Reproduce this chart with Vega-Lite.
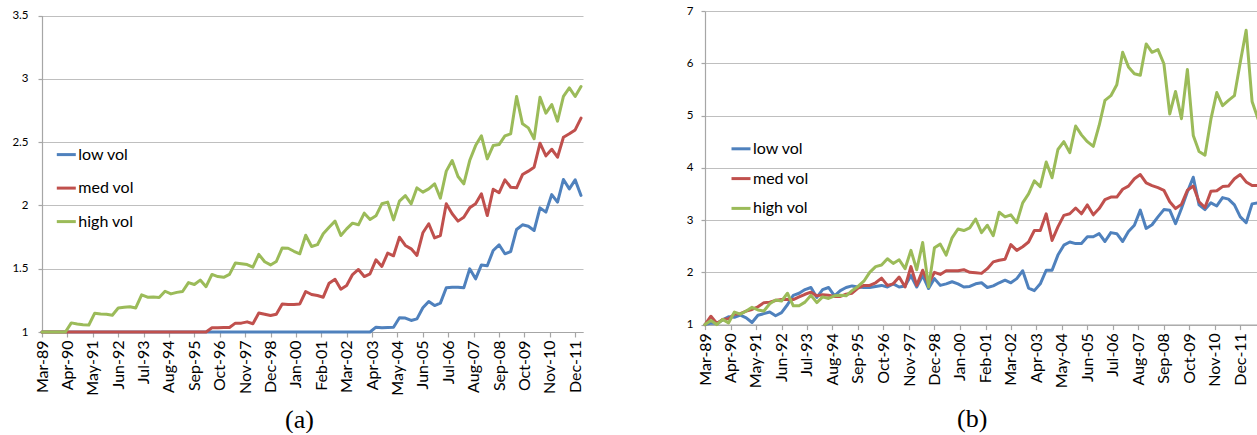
{
  "$schema": "https://vega.github.io/schema/vega-lite/v6.json",
  "background": "white",
  "padding": {"left": 11, "top": 5, "right": 0, "bottom": 0},
  "spacing": 102,
  "config": {
    "font": "Lato",
    "view": {"stroke": null},
    "axis": {
      "labelFont": "Lato",
      "labelColor": "#000000",
      "domainColor": "#a6a6a6",
      "domainWidth": 1.2,
      "tickColor": "#a6a6a6",
      "tickWidth": 1.2,
      "gridColor": "#bfbfbf",
      "gridWidth": 1.2
    },
    "legend": {
      "labelFont": "Lato",
      "labelColor": "#000000",
      "labelFontSize": 16,
      "symbolType": "stroke",
      "symbolSize": 361,
      "symbolStrokeWidth": 3,
      "labelOffset": 1,
      "padding": 0
    }
  },
  "datasets": {
    "cumA": [
      {"date": "1989-03", "low vol": 1, "med vol": 1, "high vol": 1},
      {"date": "1989-06", "low vol": 1, "med vol": 1, "high vol": 1},
      {"date": "1989-09", "low vol": 1, "med vol": 1, "high vol": 1},
      {"date": "1989-12", "low vol": 1, "med vol": 1, "high vol": 1},
      {"date": "1990-03", "low vol": 1, "med vol": 1, "high vol": 1},
      {"date": "1990-06", "low vol": 1, "med vol": 1, "high vol": 1.072},
      {"date": "1990-09", "low vol": 1, "med vol": 1, "high vol": 1.063},
      {"date": "1990-12", "low vol": 1, "med vol": 1, "high vol": 1.057},
      {"date": "1991-03", "low vol": 1, "med vol": 1, "high vol": 1.055},
      {"date": "1991-06", "low vol": 1, "med vol": 1, "high vol": 1.149},
      {"date": "1991-09", "low vol": 1, "med vol": 1, "high vol": 1.143},
      {"date": "1991-12", "low vol": 1, "med vol": 1, "high vol": 1.14},
      {"date": "1992-03", "low vol": 1, "med vol": 1, "high vol": 1.132},
      {"date": "1992-06", "low vol": 1, "med vol": 1, "high vol": 1.19},
      {"date": "1992-09", "low vol": 1, "med vol": 1, "high vol": 1.195},
      {"date": "1992-12", "low vol": 1, "med vol": 1, "high vol": 1.2},
      {"date": "1993-03", "low vol": 1, "med vol": 1, "high vol": 1.19},
      {"date": "1993-06", "low vol": 1, "med vol": 1, "high vol": 1.294},
      {"date": "1993-09", "low vol": 1, "med vol": 1, "high vol": 1.275},
      {"date": "1993-12", "low vol": 1, "med vol": 1, "high vol": 1.277},
      {"date": "1994-03", "low vol": 1, "med vol": 1, "high vol": 1.272},
      {"date": "1994-06", "low vol": 1, "med vol": 1, "high vol": 1.322},
      {"date": "1994-09", "low vol": 1, "med vol": 1, "high vol": 1.301},
      {"date": "1994-12", "low vol": 1, "med vol": 1, "high vol": 1.313},
      {"date": "1995-03", "low vol": 1, "med vol": 1, "high vol": 1.32},
      {"date": "1995-06", "low vol": 1, "med vol": 1, "high vol": 1.39},
      {"date": "1995-09", "low vol": 1, "med vol": 1, "high vol": 1.375},
      {"date": "1995-12", "low vol": 1, "med vol": 1, "high vol": 1.41},
      {"date": "1996-03", "low vol": 1, "med vol": 1, "high vol": 1.358},
      {"date": "1996-06", "low vol": 1, "med vol": 1.033, "high vol": 1.455},
      {"date": "1996-09", "low vol": 1, "med vol": 1.034, "high vol": 1.438},
      {"date": "1996-12", "low vol": 1, "med vol": 1.035, "high vol": 1.432},
      {"date": "1997-03", "low vol": 1, "med vol": 1.036, "high vol": 1.455},
      {"date": "1997-06", "low vol": 1, "med vol": 1.07, "high vol": 1.545},
      {"date": "1997-09", "low vol": 1, "med vol": 1.07, "high vol": 1.54},
      {"date": "1997-12", "low vol": 1, "med vol": 1.08, "high vol": 1.533},
      {"date": "1998-03", "low vol": 1, "med vol": 1.065, "high vol": 1.512},
      {"date": "1998-06", "low vol": 1, "med vol": 1.15, "high vol": 1.613},
      {"date": "1998-09", "low vol": 1, "med vol": 1.14, "high vol": 1.555},
      {"date": "1998-12", "low vol": 1, "med vol": 1.13, "high vol": 1.53},
      {"date": "1999-03", "low vol": 1, "med vol": 1.14, "high vol": 1.557},
      {"date": "1999-06", "low vol": 1, "med vol": 1.222, "high vol": 1.664},
      {"date": "1999-09", "low vol": 1, "med vol": 1.218, "high vol": 1.662},
      {"date": "1999-12", "low vol": 1, "med vol": 1.218, "high vol": 1.638},
      {"date": "2000-03", "low vol": 1, "med vol": 1.222, "high vol": 1.618},
      {"date": "2000-06", "low vol": 1, "med vol": 1.32, "high vol": 1.765},
      {"date": "2000-09", "low vol": 1, "med vol": 1.296, "high vol": 1.676},
      {"date": "2000-12", "low vol": 1, "med vol": 1.288, "high vol": 1.69},
      {"date": "2001-03", "low vol": 1, "med vol": 1.275, "high vol": 1.776},
      {"date": "2001-06", "low vol": 1, "med vol": 1.386, "high vol": 1.828},
      {"date": "2001-09", "low vol": 1, "med vol": 1.417, "high vol": 1.876},
      {"date": "2001-12", "low vol": 1, "med vol": 1.338, "high vol": 1.762},
      {"date": "2002-03", "low vol": 1, "med vol": 1.367, "high vol": 1.815},
      {"date": "2002-06", "low vol": 1, "med vol": 1.454, "high vol": 1.86},
      {"date": "2002-09", "low vol": 1, "med vol": 1.494, "high vol": 1.847},
      {"date": "2002-12", "low vol": 1, "med vol": 1.438, "high vol": 1.939},
      {"date": "2003-03", "low vol": 1, "med vol": 1.46, "high vol": 1.889},
      {"date": "2003-06", "low vol": 1.038, "med vol": 1.57, "high vol": 1.918},
      {"date": "2003-09", "low vol": 1.033, "med vol": 1.518, "high vol": 2.013},
      {"date": "2003-12", "low vol": 1.036, "med vol": 1.623, "high vol": 2.026},
      {"date": "2004-03", "low vol": 1.038, "med vol": 1.602, "high vol": 1.886},
      {"date": "2004-06", "low vol": 1.112, "med vol": 1.749, "high vol": 2.034},
      {"date": "2004-09", "low vol": 1.11, "med vol": 1.684, "high vol": 2.078},
      {"date": "2004-12", "low vol": 1.091, "med vol": 1.657, "high vol": 2.013},
      {"date": "2005-03", "low vol": 1.104, "med vol": 1.605, "high vol": 2.139},
      {"date": "2005-06", "low vol": 1.191, "med vol": 1.784, "high vol": 2.105},
      {"date": "2005-09", "low vol": 1.241, "med vol": 1.855, "high vol": 2.131},
      {"date": "2005-12", "low vol": 1.209, "med vol": 1.744, "high vol": 2.171},
      {"date": "2006-03", "low vol": 1.228, "med vol": 1.762, "high vol": 2.058},
      {"date": "2006-06", "low vol": 1.349, "med vol": 2.013, "high vol": 2.271},
      {"date": "2006-09", "low vol": 1.354, "med vol": 1.934, "high vol": 2.355},
      {"date": "2006-12", "low vol": 1.354, "med vol": 1.876, "high vol": 2.229},
      {"date": "2007-03", "low vol": 1.349, "med vol": 1.907, "high vol": 2.171},
      {"date": "2007-06", "low vol": 1.499, "med vol": 1.981, "high vol": 2.355},
      {"date": "2007-09", "low vol": 1.42, "med vol": 2.013, "high vol": 2.473},
      {"date": "2007-12", "low vol": 1.53, "med vol": 2.092, "high vol": 2.55},
      {"date": "2008-03", "low vol": 1.523, "med vol": 1.92, "high vol": 2.368},
      {"date": "2008-06", "low vol": 1.644, "med vol": 2.128, "high vol": 2.473},
      {"date": "2008-09", "low vol": 1.689, "med vol": 2.1, "high vol": 2.481},
      {"date": "2008-12", "low vol": 1.618, "med vol": 2.202, "high vol": 2.55},
      {"date": "2009-03", "low vol": 1.636, "med vol": 2.144, "high vol": 2.566},
      {"date": "2009-06", "low vol": 1.81, "med vol": 2.139, "high vol": 2.861},
      {"date": "2009-09", "low vol": 1.847, "med vol": 2.244, "high vol": 2.645},
      {"date": "2009-12", "low vol": 1.836, "med vol": 2.271, "high vol": 2.613},
      {"date": "2010-03", "low vol": 1.802, "med vol": 2.302, "high vol": 2.527},
      {"date": "2010-06", "low vol": 1.981, "med vol": 2.492, "high vol": 2.855},
      {"date": "2010-09", "low vol": 1.947, "med vol": 2.392, "high vol": 2.729},
      {"date": "2010-12", "low vol": 2.086, "med vol": 2.444, "high vol": 2.797},
      {"date": "2011-03", "low vol": 2.026, "med vol": 2.381, "high vol": 2.666},
      {"date": "2011-06", "low vol": 2.205, "med vol": 2.539, "high vol": 2.861},
      {"date": "2011-09", "low vol": 2.131, "med vol": 2.566, "high vol": 2.929},
      {"date": "2011-12", "low vol": 2.202, "med vol": 2.597, "high vol": 2.861},
      {"date": "2012-03", "low vol": 2.079, "med vol": 2.69, "high vol": 2.94}
    ],
    "cumB": [
      {"date": "1989-03", "low vol": 1, "med vol": 1, "high vol": 1},
      {"date": "1989-06", "low vol": 1.03, "med vol": 1.16, "high vol": 1.08},
      {"date": "1989-09", "low vol": 1.02, "med vol": 1.02, "high vol": 1.0},
      {"date": "1989-12", "low vol": 1.09, "med vol": 1.1, "high vol": 1.1},
      {"date": "1990-03", "low vol": 1.15, "med vol": 1.11, "high vol": 1.03},
      {"date": "1990-06", "low vol": 1.14, "med vol": 1.2, "high vol": 1.24},
      {"date": "1990-09", "low vol": 1.18, "med vol": 1.21, "high vol": 1.2},
      {"date": "1990-12", "low vol": 1.13, "med vol": 1.26, "high vol": 1.26},
      {"date": "1991-03", "low vol": 1.04, "med vol": 1.29, "high vol": 1.33},
      {"date": "1991-06", "low vol": 1.18, "med vol": 1.34, "high vol": 1.28},
      {"date": "1991-09", "low vol": 1.21, "med vol": 1.42, "high vol": 1.26},
      {"date": "1991-12", "low vol": 1.24, "med vol": 1.43, "high vol": 1.4},
      {"date": "1992-03", "low vol": 1.17, "med vol": 1.46, "high vol": 1.47},
      {"date": "1992-06", "low vol": 1.23, "med vol": 1.48, "high vol": 1.45},
      {"date": "1992-09", "low vol": 1.38, "med vol": 1.48, "high vol": 1.6},
      {"date": "1992-12", "low vol": 1.56, "med vol": 1.48, "high vol": 1.36},
      {"date": "1993-03", "low vol": 1.6, "med vol": 1.53, "high vol": 1.36},
      {"date": "1993-06", "low vol": 1.67, "med vol": 1.58, "high vol": 1.43},
      {"date": "1993-09", "low vol": 1.71, "med vol": 1.62, "high vol": 1.56},
      {"date": "1993-12", "low vol": 1.52, "med vol": 1.55, "high vol": 1.42},
      {"date": "1994-03", "low vol": 1.67, "med vol": 1.57, "high vol": 1.53},
      {"date": "1994-06", "low vol": 1.71, "med vol": 1.56, "high vol": 1.5},
      {"date": "1994-09", "low vol": 1.55, "med vol": 1.54, "high vol": 1.55},
      {"date": "1994-12", "low vol": 1.65, "med vol": 1.54, "high vol": 1.56},
      {"date": "1995-03", "low vol": 1.71, "med vol": 1.58, "high vol": 1.55},
      {"date": "1995-06", "low vol": 1.74, "med vol": 1.6, "high vol": 1.65},
      {"date": "1995-09", "low vol": 1.72, "med vol": 1.7, "high vol": 1.73},
      {"date": "1995-12", "low vol": 1.71, "med vol": 1.75, "high vol": 1.83},
      {"date": "1996-03", "low vol": 1.71, "med vol": 1.75, "high vol": 2.0},
      {"date": "1996-06", "low vol": 1.73, "med vol": 1.8, "high vol": 2.11},
      {"date": "1996-09", "low vol": 1.75, "med vol": 1.89, "high vol": 2.14},
      {"date": "1996-12", "low vol": 1.72, "med vol": 1.75, "high vol": 2.26},
      {"date": "1997-03", "low vol": 1.78, "med vol": 1.78, "high vol": 2.17},
      {"date": "1997-06", "low vol": 1.72, "med vol": 1.91, "high vol": 2.24},
      {"date": "1997-09", "low vol": 1.74, "med vol": 1.72, "high vol": 2.07},
      {"date": "1997-12", "low vol": 1.94, "med vol": 2.11, "high vol": 2.42},
      {"date": "1998-03", "low vol": 1.72, "med vol": 1.75, "high vol": 2.05},
      {"date": "1998-06", "low vol": 1.94, "med vol": 2.04, "high vol": 2.57},
      {"date": "1998-09", "low vol": 1.69, "med vol": 1.78, "high vol": 1.72},
      {"date": "1998-12", "low vol": 1.88, "med vol": 2.0, "high vol": 2.47},
      {"date": "1999-03", "low vol": 1.75, "med vol": 1.96, "high vol": 2.54},
      {"date": "1999-06", "low vol": 1.78, "med vol": 2.03, "high vol": 2.33},
      {"date": "1999-09", "low vol": 1.82, "med vol": 2.03, "high vol": 2.66},
      {"date": "1999-12", "low vol": 1.78, "med vol": 2.03, "high vol": 2.83},
      {"date": "2000-03", "low vol": 1.72, "med vol": 2.05, "high vol": 2.8},
      {"date": "2000-06", "low vol": 1.73, "med vol": 2.0, "high vol": 2.85},
      {"date": "2000-09", "low vol": 1.78, "med vol": 1.99, "high vol": 3.02},
      {"date": "2000-12", "low vol": 1.8, "med vol": 1.98, "high vol": 2.76},
      {"date": "2001-03", "low vol": 1.71, "med vol": 2.07, "high vol": 2.9},
      {"date": "2001-06", "low vol": 1.74, "med vol": 2.2, "high vol": 2.7},
      {"date": "2001-09", "low vol": 1.8, "med vol": 2.23, "high vol": 3.15},
      {"date": "2001-12", "low vol": 1.85, "med vol": 2.25, "high vol": 3.06},
      {"date": "2002-03", "low vol": 1.8, "med vol": 2.53, "high vol": 3.1},
      {"date": "2002-06", "low vol": 1.88, "med vol": 2.42, "high vol": 2.95},
      {"date": "2002-09", "low vol": 2.03, "med vol": 2.49, "high vol": 3.33},
      {"date": "2002-12", "low vol": 1.7, "med vol": 2.58, "high vol": 3.5},
      {"date": "2003-03", "low vol": 1.65, "med vol": 2.8, "high vol": 3.75},
      {"date": "2003-06", "low vol": 1.78, "med vol": 2.8, "high vol": 3.64},
      {"date": "2003-09", "low vol": 2.04, "med vol": 3.12, "high vol": 4.11},
      {"date": "2003-12", "low vol": 2.04, "med vol": 2.61, "high vol": 3.81},
      {"date": "2004-03", "low vol": 2.33, "med vol": 2.87, "high vol": 4.35},
      {"date": "2004-06", "low vol": 2.52, "med vol": 3.09, "high vol": 4.5},
      {"date": "2004-09", "low vol": 2.58, "med vol": 3.12, "high vol": 4.29},
      {"date": "2004-12", "low vol": 2.55, "med vol": 3.23, "high vol": 4.8},
      {"date": "2005-03", "low vol": 2.55, "med vol": 3.12, "high vol": 4.63},
      {"date": "2005-06", "low vol": 2.68, "med vol": 3.29, "high vol": 4.5},
      {"date": "2005-09", "low vol": 2.68, "med vol": 3.1, "high vol": 4.41},
      {"date": "2005-12", "low vol": 2.74, "med vol": 3.22, "high vol": 4.81},
      {"date": "2006-03", "low vol": 2.59, "med vol": 3.39, "high vol": 5.29},
      {"date": "2006-06", "low vol": 2.76, "med vol": 3.44, "high vol": 5.38},
      {"date": "2006-09", "low vol": 2.74, "med vol": 3.44, "high vol": 5.59},
      {"date": "2006-12", "low vol": 2.59, "med vol": 3.59, "high vol": 6.21},
      {"date": "2007-03", "low vol": 2.78, "med vol": 3.65, "high vol": 5.93},
      {"date": "2007-06", "low vol": 2.9, "med vol": 3.79, "high vol": 5.8},
      {"date": "2007-09", "low vol": 3.19, "med vol": 3.87, "high vol": 5.77},
      {"date": "2007-12", "low vol": 2.84, "med vol": 3.71, "high vol": 6.37},
      {"date": "2008-03", "low vol": 2.91, "med vol": 3.66, "high vol": 6.21},
      {"date": "2008-06", "low vol": 3.06, "med vol": 3.62, "high vol": 6.26},
      {"date": "2008-09", "low vol": 3.2, "med vol": 3.57, "high vol": 5.99},
      {"date": "2008-12", "low vol": 3.19, "med vol": 3.35, "high vol": 5.03},
      {"date": "2009-03", "low vol": 2.93, "med vol": 3.22, "high vol": 5.46},
      {"date": "2009-06", "low vol": 3.22, "med vol": 3.3, "high vol": 4.94},
      {"date": "2009-09", "low vol": 3.54, "med vol": 3.57, "high vol": 5.88},
      {"date": "2009-12", "low vol": 3.82, "med vol": 3.65, "high vol": 4.62},
      {"date": "2010-03", "low vol": 3.29, "med vol": 3.35, "high vol": 4.31},
      {"date": "2010-06", "low vol": 3.2, "med vol": 3.24, "high vol": 4.24},
      {"date": "2010-09", "low vol": 3.33, "med vol": 3.55, "high vol": 4.93},
      {"date": "2010-12", "low vol": 3.27, "med vol": 3.56, "high vol": 5.44},
      {"date": "2011-03", "low vol": 3.43, "med vol": 3.64, "high vol": 5.19},
      {"date": "2011-06", "low vol": 3.4, "med vol": 3.65, "high vol": 5.29},
      {"date": "2011-09", "low vol": 3.29, "med vol": 3.79, "high vol": 5.38},
      {"date": "2011-12", "low vol": 3.06, "med vol": 3.87, "high vol": 6.02},
      {"date": "2012-03", "low vol": 2.95, "med vol": 3.73, "high vol": 6.63},
      {"date": "2012-06", "low vol": 3.31, "med vol": 3.66, "high vol": 5.27},
      {"date": "2012-09", "low vol": 3.33, "med vol": 3.66, "high vol": 4.94}
    ]
  },
  "resolve": {
    "scale": {"x": "independent", "y": "independent", "color": "independent"},
    "legend": {"color": "independent"}
  },
  "hconcat": [
    {
      "width": 541,
      "height": 321,
      "data": {"name": "cumA"},
      "transform": [{"fold": ["low vol", "med vol", "high vol"], "as": ["series", "value"]}],
      "mark": {"type": "line", "strokeWidth": 3, "strokeJoin": "round", "strokeCap": "round"},
      "encoding": {
        "x": {
          "field": "date",
          "type": "temporal",
          "scale": {
            "type": "utc",
            "domain": [
              {"year": 1989, "month": 3, "date": 1, "utc": true},
              {"year": 2012, "month": 4, "date": 1, "utc": true}
            ]
          },
          "axis": {
            "values": [
              {"year": 1989, "month": 3, "date": 1, "utc": true},
              {"year": 1990, "month": 4, "date": 1, "utc": true},
              {"year": 1991, "month": 5, "date": 1, "utc": true},
              {"year": 1992, "month": 6, "date": 1, "utc": true},
              {"year": 1993, "month": 7, "date": 1, "utc": true},
              {"year": 1994, "month": 8, "date": 1, "utc": true},
              {"year": 1995, "month": 9, "date": 1, "utc": true},
              {"year": 1996, "month": 10, "date": 1, "utc": true},
              {"year": 1997, "month": 11, "date": 1, "utc": true},
              {"year": 1998, "month": 12, "date": 1, "utc": true},
              {"year": 2000, "month": 1, "date": 1, "utc": true},
              {"year": 2001, "month": 2, "date": 1, "utc": true},
              {"year": 2002, "month": 3, "date": 1, "utc": true},
              {"year": 2003, "month": 4, "date": 1, "utc": true},
              {"year": 2004, "month": 5, "date": 1, "utc": true},
              {"year": 2005, "month": 6, "date": 1, "utc": true},
              {"year": 2006, "month": 7, "date": 1, "utc": true},
              {"year": 2007, "month": 8, "date": 1, "utc": true},
              {"year": 2008, "month": 9, "date": 1, "utc": true},
              {"year": 2009, "month": 10, "date": 1, "utc": true},
              {"year": 2010, "month": 11, "date": 1, "utc": true},
              {"year": 2011, "month": 12, "date": 1, "utc": true}
            ],
            "format": "%b-%y",
            "labelAngle": -90,
            "labelFontSize": 16,
            "labelPadding": 3,
            "labelOverlap": false,
            "labelFlush": false,
            "labelBound": false,
            "tickSize": 5,
            "grid": false,
            "title": "(a)",
            "titleFont": "Liberation Serif",
            "titleFontSize": 26,
            "titleFontWeight": "normal",
            "titleColor": "#000000",
            "titleX": 257,
            "titleY": 87.5,
            "titleAlign": "center",
            "titleBaseline": "middle"
          }
        },
        "y": {
          "field": "value",
          "type": "quantitative",
          "scale": {"domain": [1, 3.5], "range": [321, 4.6], "nice": false, "zero": false},
          "axis": {
            "values": [1, 1.5, 2, 2.5, 3, 3.5],
            "labelExpr": "'' + datum.value",
            "labelFontSize": 11.5,
            "labelPadding": 10,
            "tickSize": 4,
            "grid": true,
            "title": null
          }
        },
        "color": {
          "field": "series",
          "type": "nominal",
          "scale": {"domain": ["low vol", "med vol", "high vol"], "range": ["#4f81bd", "#c0504d", "#9bbb59"]},
          "legend": {"title": null, "orient": "none", "legendX": 13.3, "legendY": 132.6, "rowPadding": 14.5}
        }
      }
    },
    {
      "width": 553,
      "height": 313.6,
      "data": {"name": "cumB"},
      "transform": [{"fold": ["low vol", "med vol", "high vol"], "as": ["series", "value"]}],
      "mark": {"type": "line", "strokeWidth": 3, "strokeJoin": "round", "strokeCap": "round"},
      "encoding": {
        "x": {
          "field": "date",
          "type": "temporal",
          "scale": {
            "type": "utc",
            "domain": [
              {"year": 1989, "month": 3, "date": 1, "utc": true},
              {"year": 2012, "month": 9, "date": 1, "utc": true}
            ]
          },
          "axis": {
            "values": [
              {"year": 1989, "month": 3, "date": 1, "utc": true},
              {"year": 1990, "month": 4, "date": 1, "utc": true},
              {"year": 1991, "month": 5, "date": 1, "utc": true},
              {"year": 1992, "month": 6, "date": 1, "utc": true},
              {"year": 1993, "month": 7, "date": 1, "utc": true},
              {"year": 1994, "month": 8, "date": 1, "utc": true},
              {"year": 1995, "month": 9, "date": 1, "utc": true},
              {"year": 1996, "month": 10, "date": 1, "utc": true},
              {"year": 1997, "month": 11, "date": 1, "utc": true},
              {"year": 1998, "month": 12, "date": 1, "utc": true},
              {"year": 2000, "month": 1, "date": 1, "utc": true},
              {"year": 2001, "month": 2, "date": 1, "utc": true},
              {"year": 2002, "month": 3, "date": 1, "utc": true},
              {"year": 2003, "month": 4, "date": 1, "utc": true},
              {"year": 2004, "month": 5, "date": 1, "utc": true},
              {"year": 2005, "month": 6, "date": 1, "utc": true},
              {"year": 2006, "month": 7, "date": 1, "utc": true},
              {"year": 2007, "month": 8, "date": 1, "utc": true},
              {"year": 2008, "month": 9, "date": 1, "utc": true},
              {"year": 2009, "month": 10, "date": 1, "utc": true},
              {"year": 2010, "month": 11, "date": 1, "utc": true},
              {"year": 2011, "month": 12, "date": 1, "utc": true}
            ],
            "format": "%b-%y",
            "labelAngle": -90,
            "labelFontSize": 16,
            "labelPadding": 3,
            "labelOverlap": false,
            "labelFlush": false,
            "labelBound": false,
            "tickSize": 5,
            "grid": false,
            "title": "(b)",
            "titleFont": "Liberation Serif",
            "titleFontSize": 26,
            "titleFontWeight": "normal",
            "titleColor": "#000000",
            "titleX": 266.7,
            "titleY": 94,
            "titleAlign": "center",
            "titleBaseline": "middle"
          }
        },
        "y": {
          "field": "value",
          "type": "quantitative",
          "scale": {"domain": [1, 7], "nice": false, "zero": false},
          "axis": {
            "values": [1, 2, 3, 4, 5, 6, 7],
            "labelExpr": "'' + datum.value",
            "labelFontSize": 11.5,
            "labelPadding": 8,
            "tickSize": 4,
            "grid": true,
            "title": null
          }
        },
        "color": {
          "field": "series",
          "type": "nominal",
          "scale": {"domain": ["low vol", "med vol", "high vol"], "range": ["#4f81bd", "#c0504d", "#9bbb59"]},
          "legend": {"title": null, "orient": "none", "legendX": 25, "legendY": 126.8, "rowPadding": 10.8}
        }
      }
    }
  ]
}
